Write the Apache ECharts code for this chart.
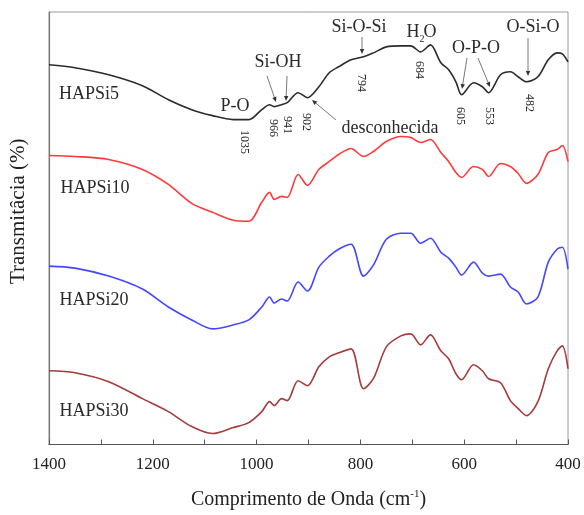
<!DOCTYPE html>
<html>
<head>
<meta charset="utf-8">
<script src="https://cdn.jsdelivr.net/npm/echarts@6/dist/echarts.min.js"></script>
<style>
  html, body { margin: 0; padding: 0; background: #fff; }
  #ftir { width: 584px; height: 515px; }
</style>
</head>
<body>
<div id="ftir"></div>
<script>
// wavenumber samples (cm-1), shared by all spectra
var wavenumber = [1400,1350,1285,1220,1170,1125,1085,1045,1015,990,
  975,966,952,941,920,902,880,860,842,818,
  794,775,750,722,703,684,665,645,630,616,
  605,582,565,553,530,511,496,480,458,438,
  421,411,400];

// transmittance, arbitrary units (curves are stacked)
var hapsi5 = [381,378,371,360,346,336,330,326,326,336,
  341,339,341,343,353,348,359,373,379,386,
  389,393,399,400,400,394,401,383,376,364,
  351,363,359,353,371,374,369,364,369,386,
  393,392,384];
var hapsi10 = [290,289,286,276,261,242,233,225,224,243,
  253,246,249,248,271,260,276,284,291,297,
  289,294,304,309,308,303,306,293,284,273,
  268,279,276,269,282,279,272,262,271,293,
  296,300,284];
var hapsi20 = [179,177,169,156,138,125,116,120,125,138,
  148,142,146,144,163,154,178,189,196,201,
  169,180,206,212,212,202,207,193,187,178,
  170,183,172,169,171,158,153,141,148,183,
  196,198,176];
var hapsi30 = [74,72,63,46,33,18,11,17,22,33,
  43,39,46,44,64,59,78,88,92,96,
  56,66,98,109,111,100,110,94,86,71,
  65,80,74,66,62,44,36,29,43,76,
  94,99,76];

var sampleNames = ['HAPSi5','HAPSi10','HAPSi20','HAPSi30'];
var peakLabels = ['1035','966','941','902','794','684','605','553','482'];
var xTicks = [1400,1200,1000,800,600,400];

var SERIF = 'Liberation Serif, Times New Roman, serif';
var chart = echarts.init(document.getElementById('ftir'));

function pairs(ys) {
  return wavenumber.map(function(w, i) { return [w, ys[i]]; });
}

function txt(x, y, s, size, rot) {
  return {
    type: 'text', x: x, y: y, rotation: rot || 0, z: 10,
    style: { text: s, fontFamily: SERIF, fontSize: size, fill: '#2a2a2a',
      align: 'center', verticalAlign: 'middle' }
  };
}

function arrow(x1, y1, x2, y2) {
  var a = Math.atan2(y2 - y1, x2 - x1), L = 5, W = 2.2;
  var bx = x2 - L * Math.cos(a), by = y2 - L * Math.sin(a);
  var nx = -Math.sin(a) * W, ny = Math.cos(a) * W;
  return [
    { type: 'line', z: 10, shape: { x1: x1, y1: y1, x2: bx, y2: by },
      style: { stroke: '#555', lineWidth: 0.8 } },
    { type: 'polygon', z: 10, shape: { points: [[x2, y2], [bx + nx, by + ny], [bx - nx, by - ny]] },
      style: { fill: '#333' } }
  ];
}

var graphics = [];
// sample names
var namePos = [[89, 94], [95, 188], [94, 300], [94, 411]];
sampleNames.forEach(function(n, i) {
  graphics.push(txt(namePos[i][0], namePos[i][1], n, 18));
});
// band assignments
graphics.push(txt(235, 106, 'P-O', 18));
graphics.push(txt(278, 62, 'Si-OH', 18));
graphics.push(txt(359, 27, 'Si-O-Si', 18));
graphics.push(txt(413, 32, 'H', 18));
graphics.push(txt(422, 39, '2', 10));
graphics.push(txt(430, 32, 'O', 18));
graphics.push(txt(476, 48, 'O-P-O', 18));
graphics.push(txt(533, 27, 'O-Si-O', 18));
graphics.push(txt(390, 128, 'desconhecida', 18));
// peak positions (rotated)
var peakPos = [[244, 142], [273, 128], [287, 125], [306, 122], [361, 83], [419, 70], [460, 116], [489, 116], [529, 103]];
peakLabels.forEach(function(p, i) {
  graphics.push(txt(peakPos[i][0], peakPos[i][1], p, 12, -Math.PI / 2));
});
// arrows
graphics = graphics.concat(
  arrow(267, 76, 276, 102),
  arrow(287, 76, 286, 101),
  arrow(362, 37, 362, 54),
  arrow(467, 58, 462, 89),
  arrow(478, 58, 490, 87),
  arrow(528, 38, 528, 76),
  arrow(336, 120, 312, 100)
);

var option = {
  animation: false,
  backgroundColor: '#fff',
  grid: { left: 46, right: 16, top: 12, bottom: 69, show: true, borderColor: '#9a9a9a', borderWidth: 1 },
  xAxis: {
    type: 'value', inverse: true, min: 400, max: 1400, interval: 100,
    name: '{a|Comprimento de Onda (cm}{s|-1}{a|)}',
    nameLocation: 'middle', nameGap: 44,
    nameTextStyle: {
      rich: {
        a: { fontFamily: SERIF, fontSize: 20, color: '#222' },
        s: { fontFamily: SERIF, fontSize: 11, color: '#222', padding: [0, 0, 12, 0] }
      }
    },
    axisLine: { lineStyle: { color: '#555', width: 1.2 } },
    axisTick: { inside: true, length: 5, lineStyle: { color: '#555' } },
    axisLabel: {
      fontFamily: SERIF, fontSize: 17, color: '#222', margin: 12,
      formatter: function(v) { return xTicks.indexOf(v) >= 0 ? String(v) : ''; }
    },
    splitLine: { show: false }
  },
  yAxis: {
    type: 'value', min: 0, max: 434,
    name: 'Transmitâcia (%)', nameLocation: 'middle', nameGap: 20,
    nameTextStyle: { fontFamily: SERIF, fontSize: 21, color: '#222', padding: [0, 0, 0, 34] },
    axisLine: { show: true, lineStyle: { color: '#777', width: 1.2 } },
    axisTick: { show: false },
    axisLabel: { show: false },
    splitLine: { show: false }
  },
  series: [
    { name: 'HAPSi5', type: 'line', data: pairs(hapsi5), color: '#2b2b2b' },
    { name: 'HAPSi10', type: 'line', data: pairs(hapsi10), color: '#ff3a3a' },
    { name: 'HAPSi20', type: 'line', data: pairs(hapsi20), color: '#4646ff' },
    { name: 'HAPSi30', type: 'line', data: pairs(hapsi30), color: '#a43c3c' }
  ].map(function(s) {
    s.showSymbol = false;
    s.smooth = 0.3;
    s.lineStyle = { width: 1.6 };
    return s;
  }),
  graphic: graphics
};
chart.setOption(option);
</script>
</body>
</html>
